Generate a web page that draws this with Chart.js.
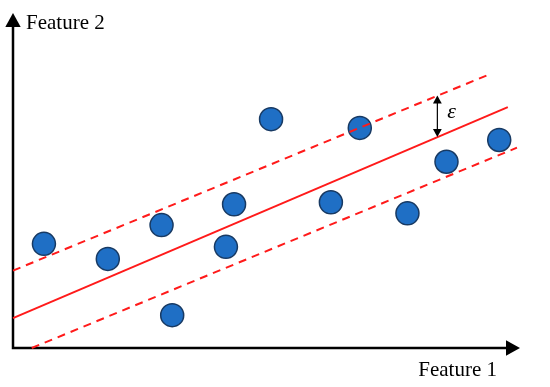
<!DOCTYPE html>
<html>
<head>
<meta charset="utf-8">
<script src="https://cdn.jsdelivr.net/npm/chart.js@4"></script>
<style>
  html, body { margin: 0; padding: 0; background: #fff; }
  #wrap { width: 550px; height: 387px; }
</style>
</head>
<body>
<div id="wrap"><canvas id="myChart"></canvas></div>
<script>
// sample points (feature 1, feature 2)
let pointsX = [0.61, 1.87, 2.93, 3.14, 4.20, 4.36, 5.09, 6.27, 6.84, 7.78, 8.55, 9.59];
let pointsY = [3.11, 2.66, 3.67, 0.98, 3.02, 4.29, 6.83, 4.35, 6.57, 4.02, 5.56, 6.21];

// regression line and the epsilon margin lines (end points)
let fitX = [0, 9.76];
let fitY = [0.89, 7.19];
let upperX = [0, 9.35];
let upperY = [2.31, 8.14];
let lowerX = [0.37, 9.94];
let lowerY = [0, 5.98];

// epsilon marker
let epsX = 8.37;
let epsY = [6.30, 7.54];
let epsLabel = 'ε';

let xTitle = 'Feature 1';
let yTitle = 'Feature 2';

function pairs(xs, ys) {
    return xs.map((x, i) => ({x: x, y: ys[i]}));
}

function arrowHead(ctx, x, y, dir, size) {
    // dir: 'up', 'down', 'right'
    ctx.beginPath();
    if (dir === 'up') {
        ctx.moveTo(x, y);
        ctx.lineTo(x - size * 0.55, y + size);
        ctx.lineTo(x + size * 0.55, y + size);
    } else if (dir === 'down') {
        ctx.moveTo(x, y);
        ctx.lineTo(x - size * 0.55, y - size);
        ctx.lineTo(x + size * 0.55, y - size);
    } else {
        ctx.moveTo(x, y);
        ctx.lineTo(x - size, y - size * 0.55);
        ctx.lineTo(x - size, y + size * 0.55);
    }
    ctx.closePath();
    ctx.fill();
}

const axesPlugin = {
    id: 'axesPlugin',
    beforeDatasetsDraw(chart) {
        const ctx = chart.ctx;
        const a = chart.chartArea;
        ctx.save();
        ctx.strokeStyle = '#000';
        ctx.fillStyle = '#000';
        ctx.lineWidth = 2.5;
        ctx.beginPath();
        ctx.moveTo(a.left, a.top + 12);
        ctx.lineTo(a.left, a.bottom);
        ctx.lineTo(a.right - 12, a.bottom);
        ctx.stroke();
        arrowHead(ctx, a.left, a.top, 'up', 14);
        arrowHead(ctx, a.right, a.bottom, 'right', 14);

        ctx.font = '21px "Liberation Serif", "Times New Roman", serif';
        ctx.textBaseline = 'middle';
        ctx.textAlign = 'left';
        ctx.fillText(yTitle, a.left + 13, a.top + 10);
        ctx.textAlign = 'right';
        ctx.fillText(xTitle, a.right - 23, a.bottom + 22);
        ctx.restore();
    },
    afterDatasetsDraw(chart) {
        const ctx = chart.ctx;
        const xs = chart.scales.x, ys = chart.scales.y;
        const px = xs.getPixelForValue(epsX);
        const y0 = ys.getPixelForValue(epsY[0]);
        const y1 = ys.getPixelForValue(epsY[1]);
        ctx.save();
        ctx.strokeStyle = '#000';
        ctx.fillStyle = '#000';
        ctx.lineWidth = 1.2;
        ctx.beginPath();
        ctx.moveTo(px, y1 + 6);
        ctx.lineTo(px, y0 - 6);
        ctx.stroke();
        arrowHead(ctx, px, y1, 'up', 8);
        arrowHead(ctx, px, y0, 'down', 8);
        ctx.font = 'italic 22px "Liberation Serif", "Times New Roman", serif';
        ctx.textAlign = 'left';
        ctx.textBaseline = 'middle';
        ctx.fillText(epsLabel, px + 10, (y0 + y1) / 2 - 4);
        ctx.restore();
    }
};

const ctx = document.getElementById('myChart');
let myChart = new Chart(ctx, {
    type: 'scatter',
    data: {
        datasets: [
            {
                type: 'line',
                data: pairs(fitX, fitY),
                borderColor: '#ff1a1a',
                borderWidth: 2,
                pointRadius: 0,
                clip: false
            },
            {
                type: 'line',
                data: pairs(upperX, upperY),
                borderColor: '#ff1a1a',
                borderWidth: 2,
                borderDash: [8, 6],
                pointRadius: 0,
                clip: false
            },
            {
                type: 'line',
                data: pairs(lowerX, lowerY),
                borderColor: '#ff1a1a',
                borderWidth: 2,
                borderDash: [8, 6],
                pointRadius: 0,
                clip: false
            },
            {
                data: pairs(pointsX, pointsY),
                backgroundColor: '#1f6fc5',
                borderColor: '#183a63',
                borderWidth: 1.5,
                pointRadius: 11.5,
                pointHoverRadius: 11.5,
                clip: false
            }
        ]
    },
    options: {
        responsive: true,
        maintainAspectRatio: false,
        animation: false,
        events: [],
        layout: {
            padding: {left: 11, top: 10, right: 30, bottom: 39}
        },
        plugins: {
            legend: {display: false},
            tooltip: {enabled: false}
        },
        scales: {
            x: {type: 'linear', min: 0, max: 10, display: false},
            y: {type: 'linear', min: 0, max: 10, display: false}
        }
    },
    plugins: [axesPlugin]
});
</script>
</body>
</html>
